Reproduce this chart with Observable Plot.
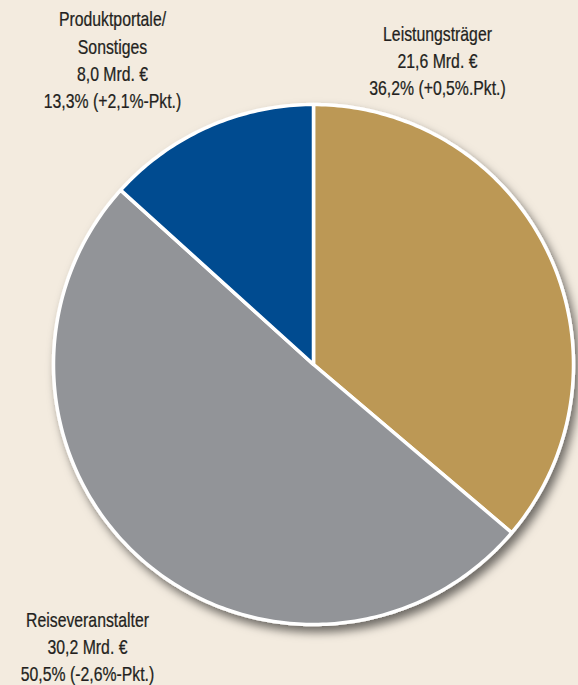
<!DOCTYPE html>
<html>
<head>
<meta charset="utf-8">
<script src="https://cdn.jsdelivr.net/npm/d3@7"></script>
<script src="https://cdn.jsdelivr.net/npm/@observablehq/plot@0.6"></script>
<style>
  html, body { margin: 0; padding: 0; background: #f3ebdf; }
  #chart svg { display: block; }
</style>
</head>
<body>
<div id="chart"></div>
<script>
// ---- data ----
const categories = ["Leistungsträger", "Reiseveranstalter", "Produktportale/\nSonstiges"];
const shares = [36.2, 50.5, 13.3];
const amounts = ["21,6 Mrd. €", "30,2 Mrd. €", "8,0 Mrd. €"];
const shareLabels = ["36,2% (+0,5%.Pkt.)", "50,5% (-2,6%-Pkt.)", "13,3% (+2,1%-Pkt.)"];
const colors = ["#bc9854", "#929498", "#024b90"];

// ---- layout (pixels) ----
const W = 578, H = 685;
const cx = 313, cy = 364, R = 260;

// build slice outlines in unit-circle coordinates (clockwise from top)
const total = d3.sum(shares);
const pts = [];
let acc = 0;
categories.forEach((c, i) => {
  const a0 = acc / total * 2 * Math.PI;
  acc += shares[i];
  const a1 = acc / total * 2 * Math.PI;
  pts.push({cat: c, x: 0, y: 0});
  const n = Math.max(2, Math.ceil((a1 - a0) / (2 * Math.PI) * 400));
  for (let k = 0; k <= n; k++) {
    const a = a0 + (a1 - a0) * k / n;
    pts.push({cat: c, x: Math.sin(a), y: Math.cos(a)});
  }
});

// label anchors (pixel → data units)
const px2x = p => (p - cx) / R;
const px2y = p => (cy - p) / R;
const labelAt = [[437, 59], [87, 645], [112, 58]];
const labels = categories.map((c, i) => ({
  text: `${c}\n${amounts[i]}\n${shareLabels[i]}`,
  x: px2x(labelAt[i][0]),
  y: px2y(labelAt[i][1])
}));

const plot = Plot.plot({
  width: W,
  height: H,
  margin: 0,
  style: {background: "#f3ebdf", overflow: "visible"},
  x: {domain: [-1, 1], range: [cx - R, cx + R], axis: null},
  y: {domain: [-1, 1], range: [cy + R, cy - R], axis: null},
  color: {domain: categories, range: colors},
  marks: [
    Plot.line(pts, {
      x: "x", y: "y", z: "cat",
      fill: "cat",
      stroke: "white",
      strokeWidth: 3.5,
      strokeLinejoin: "round",
      curve: "linear-closed"
    }),
    Plot.text(labels, {
      x: "x", y: "y", text: "text",
      fontSize: 20,
      lineHeight: 1.36,
      fill: "#231f20",
      stroke: "#231f20",
      strokeWidth: 0.25,
      fontFamily: "'Liberation Sans', Arial, sans-serif",
      textAnchor: "middle",
      lineAnchor: "middle"
    })
  ]
});

// drop shadow under the pie
const svg = d3.select(plot);
const defs = svg.insert("defs", ":first-child");
const f = defs.append("filter").attr("id", "pieShadow")
  .attr("x", "-20%").attr("y", "-20%").attr("width", "140%").attr("height", "140%");
f.append("feDropShadow")
  .attr("dx", 4).attr("dy", 6).attr("stdDeviation", 5)
  .attr("flood-color", "#000").attr("flood-opacity", 0.55);
svg.select("g[aria-label='line']").attr("filter", "url(#pieShadow)");

// condense the label font horizontally (like Helvetica Condensed)
svg.selectAll("g[aria-label='text'] text").each(function() {
  const t = d3.select(this);
  let tr = t.attr("transform");
  if (!tr) {
    const x = t.attr("x") || 0, y = t.attr("y") || 0;
    tr = `translate(${x},${y})`;
    t.attr("x", null).attr("y", null);
  }
  t.attr("transform", tr + " scale(0.79,1)");
});

document.getElementById("chart").appendChild(plot);
</script>
</body>
</html>
